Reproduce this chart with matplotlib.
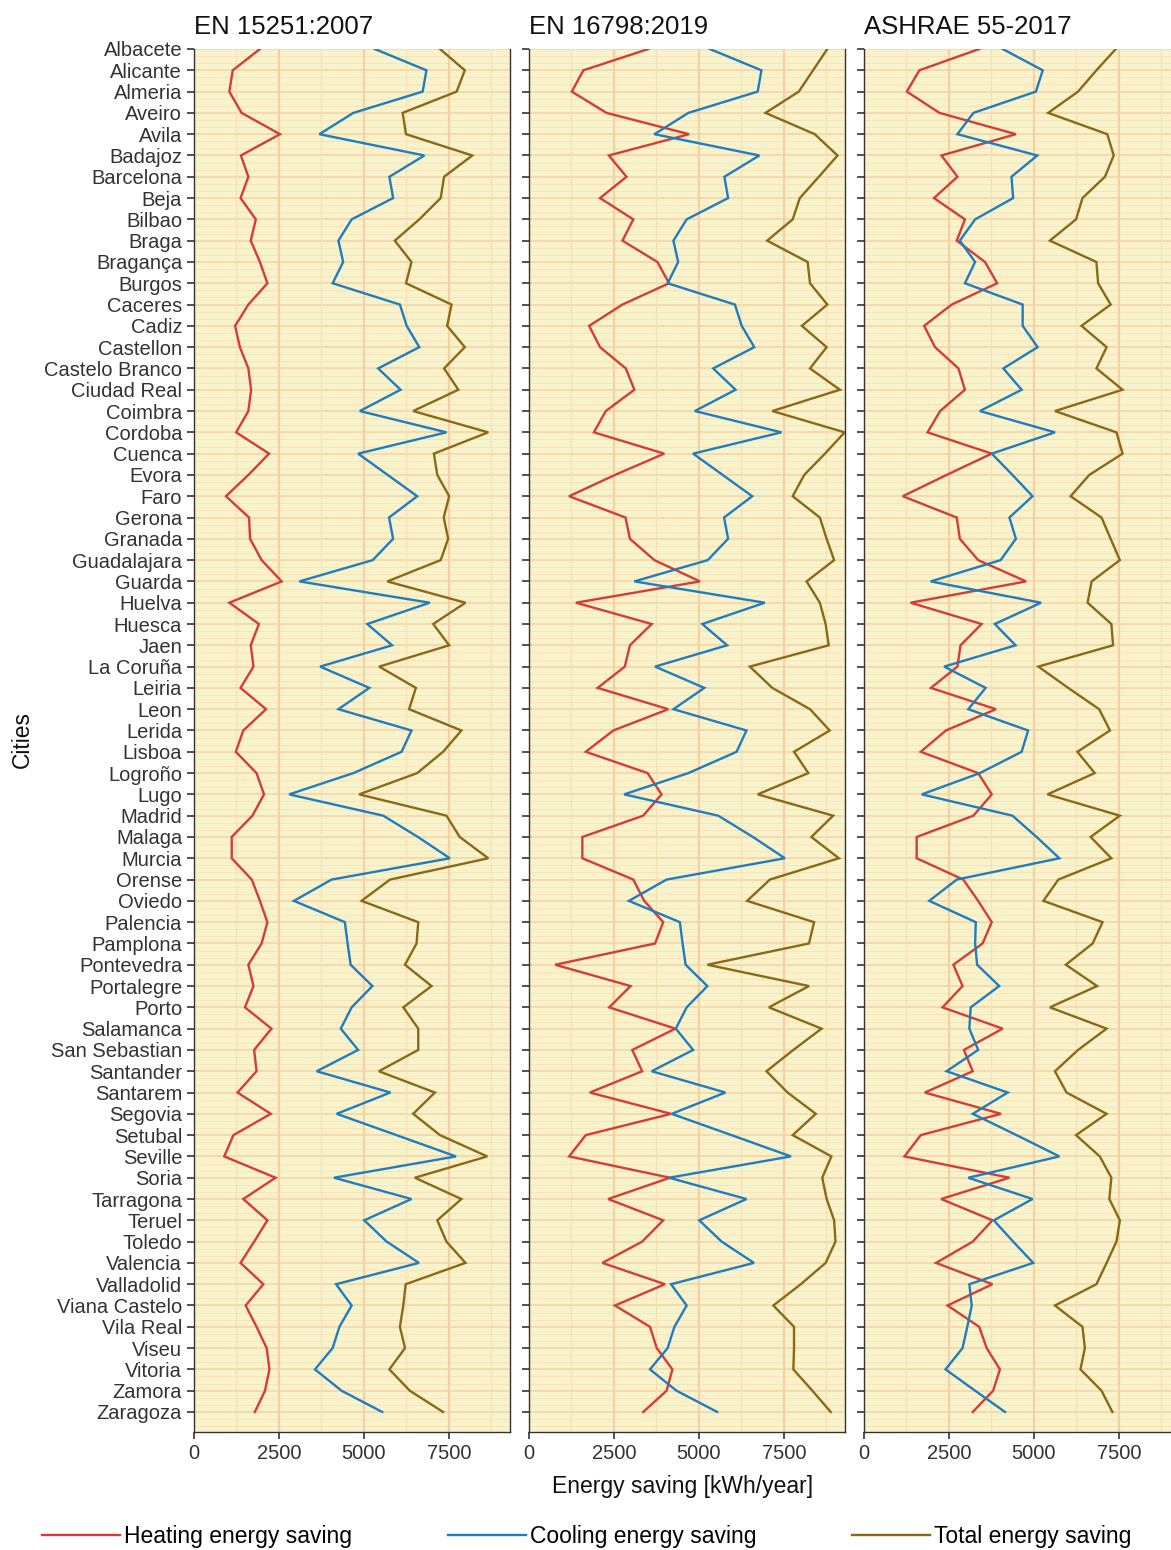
import matplotlib
matplotlib.use("Agg")
import matplotlib.pyplot as plt
from matplotlib.lines import Line2D
import numpy as np

plt.rcParams['font.family'] = ['Liberation Sans', 'DejaVu Sans']

cities = ["Albacete", "Alicante", "Almeria", "Aveiro", "Avila", "Badajoz", "Barcelona", "Beja",
          "Bilbao", "Braga", "Bragança", "Burgos", "Caceres", "Cadiz", "Castellon", "Castelo Branco",
          "Ciudad Real", "Coimbra", "Cordoba", "Cuenca", "Evora", "Faro", "Gerona", "Granada",
          "Guadalajara", "Guarda", "Huelva", "Huesca", "Jaen", "La Coruña", "Leiria", "Leon",
          "Lerida", "Lisboa", "Logroño", "Lugo", "Madrid", "Malaga", "Murcia", "Orense", "Oviedo",
          "Palencia", "Pamplona", "Pontevedra", "Portalegre", "Porto", "Salamanca", "San Sebastian",
          "Santander", "Santarem", "Segovia", "Setubal", "Seville", "Soria", "Tarragona", "Teruel",
          "Toledo", "Valencia", "Valladolid", "Viana Castelo", "Vila Real", "Viseu", "Vitoria",
          "Zamora", "Zaragoza"]

standards = ["EN 15251:2007", "EN 16798:2019", "ASHRAE 55-2017"]

# ---- EN 15251:2007 ----
heat_15251 = [1940, 1140, 1040, 1400, 2530, 1380, 1600, 1370, 1820, 1670, 1940, 2160, 1600, 1210,
              1350, 1600, 1680, 1600, 1240, 2210, 1600, 940, 1620, 1650, 1990, 2580, 1040, 1910,
              1670, 1750, 1370, 2120, 1450, 1230, 1840, 2060, 1720, 1110, 1110, 1700, 1940, 2160,
              1990, 1600, 1750, 1500, 2280, 1770, 1840, 1280, 2260, 1160, 890, 2400, 1450, 2160,
              1770, 1370, 2040, 1520, 1840, 2140, 2220, 2090, 1790]
cool_15251 = [5320, 6840, 6730, 4690, 3690, 6780, 5750, 5860, 4640, 4250, 4390, 4080, 6060, 6260,
              6630, 5420, 6080, 4880, 7430, 4830, 5700, 6570, 5740, 5860, 5260, 3100, 6940, 5100,
              5830, 3710, 5160, 4250, 6400, 6110, 4690, 2800, 5570, 6590, 7530, 4050, 2940, 4440,
              4520, 4610, 5250, 4640, 4320, 4830, 3610, 5780, 4200, 5960, 7710, 4120, 6400, 5010,
              5670, 6620, 4180, 4640, 4280, 4080, 3560, 4340, 5540]
total_15251 = [7240, 7970, 7730, 6140, 6240, 8190, 7360, 7260, 6630, 5910, 6400, 6240, 7580, 7450,
               7970, 7360, 7780, 6450, 8660, 7060, 7160, 7510, 7350, 7480, 7260, 5690, 7990, 7040,
               7510, 5450, 6530, 6330, 7870, 7330, 6570, 4860, 7430, 7820, 8660, 5770, 4930, 6600,
               6550, 6210, 6990, 6160, 6600, 6600, 5440, 7090, 6450, 7240, 8630, 6500, 7870, 7160,
               7430, 7990, 6230, 6160, 6060, 6210, 5750, 6350, 7330]

# ---- EN 16798:2019 ----
heat_16798 = [3510, 1600, 1260, 2280, 4710, 2350, 2870, 2090, 3070, 2750, 3780, 4120, 2750, 1770,
              2090, 2850, 3100, 2260, 1910, 3980, 2530, 1180, 2840, 2970, 3690, 5030, 1380, 3610,
              2970, 2820, 2020, 4100, 2480, 1670, 3490, 3900, 3360, 1570, 1570, 3070, 3390, 3950,
              3710, 770, 2990, 2360, 4310, 3040, 3330, 1790, 4180, 1670, 1180, 4150, 2330, 3950,
              3330, 2160, 4000, 2530, 3560, 3760, 4220, 4050, 3360]
cool_16798 = cool_15251
total_16798 = [8780, 8360, 7940, 6960, 8410, 9080, 8530, 7970, 7760, 7010, 8200, 8270, 8780, 8030,
               8760, 8270, 9150, 7160, 9290, 8710, 8100, 7760, 8560, 8760, 8980, 8170, 8560, 8730,
               8820, 6500, 7160, 8270, 8850, 7800, 8220, 6730, 8950, 8310, 9120, 7090, 6420, 8390,
               8240, 5250, 8240, 7060, 8610, 7780, 6990, 7610, 8440, 7760, 8900, 8630, 8760, 8980,
               9020, 8730, 8000, 7190, 7800, 7800, 7780, 8340, 8880]

# ---- ASHRAE 55-2017 ----
heat_ashrae = [3390, 1630, 1260, 2220, 4470, 2280, 2750, 2060, 2970, 2730, 3560, 3920, 2580, 1770,
               2090, 2780, 2970, 2240, 1870, 3760, 2430, 1140, 2730, 2820, 3360, 4770, 1370, 3460,
               2840, 2750, 1970, 3880, 2410, 1670, 3360, 3760, 3220, 1550, 1550, 2920, 3360, 3760,
               3490, 2630, 2900, 2310, 4080, 2940, 3200, 1790, 4030, 1670, 1190, 4280, 2270, 3780,
               3200, 2120, 3780, 2460, 3390, 3610, 4000, 3800, 3200]
cool_ashrae = [4080, 5260, 5060, 3220, 2750, 5100, 4340, 4390, 3270, 2820, 3270, 2970, 4670, 4670,
               5110, 4100, 4640, 3410, 5620, 3760, 4370, 4960, 4280, 4470, 4020, 1960, 5210, 3850,
               4460, 2360, 3580, 3070, 4830, 4640, 3410, 1700, 4370, 5080, 5750, 2730, 1920, 3290,
               3270, 3330, 3980, 3140, 3100, 3360, 2430, 4230, 3200, 4490, 5750, 3070, 4960, 3820,
               4390, 4980, 3100, 3170, 3040, 2900, 2400, 3270, 4150]
total_ashrae = [7410, 6840, 6300, 5420, 7160, 7350, 7090, 6430, 6240, 5470, 6840, 6890, 7260, 6400,
                7140, 6840, 7610, 5620, 7430, 7610, 6630, 6080, 6990, 7260, 7530, 6700, 6580, 7280,
                7330, 5130, 6010, 6920, 7240, 6280, 6790, 5400, 7530, 6670, 7280, 5720, 5280, 7020,
                6730, 5940, 6860, 5470, 7140, 6300, 5620, 5960, 7140, 6240, 6940, 7280, 7220, 7530,
                7430, 7140, 6840, 5620, 6430, 6500, 6370, 6990, 7310]

heating = [heat_15251, heat_16798, heat_ashrae]
cooling = [cool_15251, cool_16798, cool_ashrae]
total = [total_15251, total_16798, total_ashrae]

series_labels = ["Heating energy saving", "Cooling energy saving", "Total energy saving"]
colors = ["#D63C37", "#1E7DBF", "#8B6914"]

W, H = 1171, 1550
fig = plt.figure(figsize=(W / 100, H / 100), dpi=100)
fig.patch.set_facecolor("white")

panel_lefts = [194, 529, 864]
pw = 316
top_px, bot_px = 49, 1432
n = len(cities)
ypos = np.arange(n)

tick_col = "#333333"
for k in range(3):
    ax = fig.add_axes([panel_lefts[k] / W, 1 - bot_px / H, pw / W, (bot_px - top_px) / H])
    ax.set_facecolor("#F8F3CB")
    ax.set_xlim(0, 9300)
    ax.set_ylim(n - 1 + 0.94, 0)
    # grid
    for yv in ypos:
        ax.axhline(yv, color="#F7D2A4", lw=1.1, zorder=1)
        for fr in (1 / 3, 2 / 3):
            ax.axhline(yv + fr, color="#F8E3BA", lw=0.7, zorder=1)
    for xv in [0, 2500, 5000, 7500]:
        ax.axvline(xv, color="#F7CFA0", lw=1.5, zorder=1)
    for xv in [1250, 3750, 6250, 8750]:
        ax.axvline(xv, color="#F8E0B6", lw=0.9, zorder=1)
    for vals, c in zip([heating[k], cooling[k], total[k]], colors):
        ax.plot(vals, ypos, color=c, lw=1.7, zorder=3, solid_joinstyle="miter")
    ax.set_yticks(ypos)
    if k == 0:
        ax.set_yticklabels(cities, fontsize=14.5, color=tick_col)
    else:
        ax.set_yticklabels([])
    ax.set_xticks([0, 2500, 5000, 7500])
    ax.set_xticklabels(["0", "2500", "5000", "7500"], fontsize=14.5, color=tick_col)
    ax.tick_params(axis="both", length=5, width=1.2, color="#333333", pad=3.5)
    for s in ax.spines.values():
        s.set_color("#333333")
        s.set_linewidth(1.0)
    ax.spines["top"].set_visible(False)
    ax.set_title(standards[k], loc="left", fontsize=18.5, pad=11, color="#111111")

fig.text(683 / W, 1 - 1487 / H, "Energy saving [kWh/year]", ha="center", va="center",
         fontsize=16.5, color="#111111")
fig.text(22 / W, 1 - 740 / H, "Cities", ha="center", va="center", rotation=90,
         fontsize=16.5, color="#111111")

handles = [Line2D([0], [0], color=c, lw=1.7) for c in colors]
fig.legend(handles, series_labels, loc="center left", bbox_to_anchor=(42 / W, 1 - 1537 / H),
           ncol=3, frameon=False, fontsize=16.5, handlelength=3.4, handletextpad=0.2,
           columnspacing=4.15, borderpad=0, borderaxespad=0)

fig.savefig("out.png", dpi=100)
